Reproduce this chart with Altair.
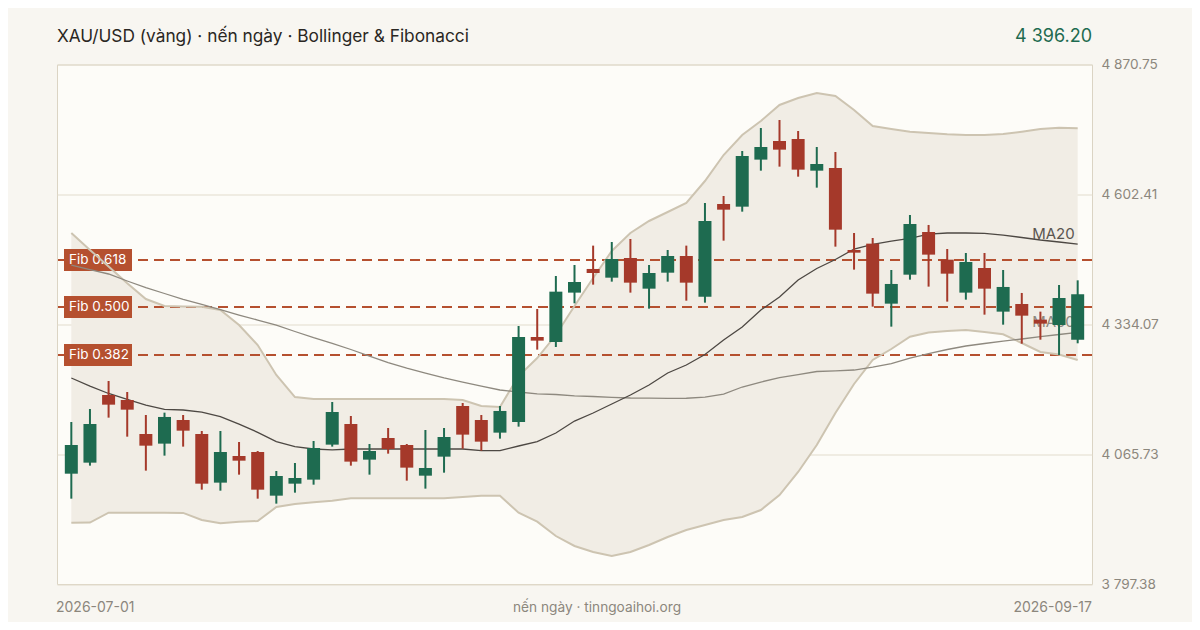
import altair as alt
import pandas as pd

# ---- data ----
opens = [4025.3, 4048.1, 4187.9, 4177.5, 4107.3, 4087.4, 4136.2, 4107.3, 4006.8, 4061.9,
         4070.1, 3979.9, 4004.7, 4013.0, 4085.3, 4128.0, 4054.3, 4099.1, 4084.6, 4021.2,
         4060.5, 4165.2, 4136.2, 4110.1, 4132.1, 4307.7, 4297.4, 4399.4, 4448.3, 4430.3,
         4471.0, 4407.6, 4440.6, 4475.1, 4391.1, 4582.5, 4577.0, 4674.2, 4712.7, 4716.8,
         4651.4, 4656.9, 4487.5, 4500.6, 4376.6, 4436.5, 4524.7, 4467.5, 4399.4, 4450.3,
         4360.1, 4375.9, 4343.6, 4332.5, 4302.2]
highs = [4132.1, 4159.0, 4216.8, 4194.1, 4146.6, 4151.4, 4146.6, 4113.5, 4113.5, 4090.8,
         4072.2, 4030.9, 4047.4, 4092.9, 4173.4, 4144.5, 4086.7, 4119.7, 4086.7, 4115.6,
         4119.7, 4171.4, 4146.6, 4165.2, 4330.5, 4365.6, 4433.8, 4456.5, 4496.5, 4504.0,
         4510.2, 4456.5, 4487.5, 4496.5, 4584.6, 4599.1, 4692.0, 4739.5, 4756.1, 4733.4,
         4700.3, 4690.0, 4522.6, 4512.3, 4446.2, 4559.8, 4539.2, 4489.6, 4481.3, 4481.3,
         4446.2, 4398.7, 4360.1, 4415.2, 4424.8]
lows = [3973.7, 4041.9, 4141.1, 4101.8, 4031.6, 4062.6, 4081.2, 3992.3, 3990.2, 4023.3,
        3973.7, 3963.4, 3986.1, 4002.6, 4081.2, 4041.9, 4023.3, 4066.7, 4010.9, 3994.4,
        4027.4, 4077.0, 4072.9, 4097.7, 4122.5, 4281.6, 4287.1, 4377.3, 4415.9, 4422.1,
        4399.4, 4366.3, 4422.1, 4382.8, 4378.7, 4506.8, 4566.7, 4651.4, 4659.7, 4639.0,
        4616.3, 4494.4, 4446.9, 4370.4, 4329.1, 4426.2, 4411.8, 4380.8, 4384.9, 4353.9,
        4333.2, 4293.9, 4302.2, 4270.6, 4294.7]
closes = [4084.6, 4128.0, 4167.9, 4157.6, 4083.2, 4142.5, 4114.2, 4004.7, 4070.1, 4052.2,
          3992.3, 4020.5, 4016.4, 4078.4, 4152.8, 4050.2, 4072.2, 4076.3, 4037.8, 4037.1,
          4101.1, 4106.0, 4091.5, 4154.9, 4307.7, 4300.2, 4401.4, 4421.4, 4440.0, 4468.9,
          4420.0, 4440.0, 4475.1, 4420.0, 4547.4, 4570.8, 4681.7, 4700.3, 4694.8, 4653.5,
          4665.2, 4529.5, 4482.0, 4397.3, 4417.3, 4541.2, 4477.9, 4438.6, 4462.7, 4407.6,
          4411.1, 4351.8, 4335.3, 4388.3, 4396.2]
bb_upper = [4522.6, 4487.7, 4453.4, 4418.9, 4386.2, 4371.7, 4370.7, 4370.3, 4363.5, 4332.5,
            4291.2, 4229.2, 4183.7, 4179.6, 4179.6, 4179.6, 4179.6, 4179.6, 4179.6, 4179.6,
            4179.6, 4177.5, 4165.1, 4163.1, 4227.1, 4264.3, 4311.8, 4371.7, 4429.6, 4485.4,
            4522.6, 4547.4, 4566.0, 4584.6, 4630.0, 4683.7, 4725.1, 4754.0, 4787.1, 4801.5,
            4811.8, 4805.6, 4776.7, 4743.7, 4737.5, 4731.9, 4729.2, 4726.5, 4725.1, 4725.1,
            4727.1, 4731.9, 4737.5, 4740.1, 4738.9]
bb_lower = [3924.0, 3924.4, 3944.7, 3944.7, 3944.7, 3944.7, 3944.3, 3929.6, 3922.8, 3926.1,
            3927.5, 3956.4, 3962.6, 3966.2, 3969.5, 3974.4, 3974.4, 3974.4, 3974.4, 3974.4,
            3974.4, 3977.1, 3979.8, 3979.8, 3944.7, 3926.1, 3896.5, 3875.9, 3863.5, 3855.2,
            3863.5, 3877.9, 3894.4, 3908.9, 3919.2, 3929.6, 3935.8, 3950.2, 3981.2, 4028.8,
            4084.5, 4150.7, 4210.6, 4260.2, 4282.9, 4308.3, 4317.0, 4320.1, 4322.2, 4318.0,
            4313.3, 4295.3, 4276.7, 4271.5, 4260.2]
ma20 = [4223.0, 4206.4, 4191.0, 4178.6, 4167.2, 4158.3, 4156.9, 4152.7, 4143.4, 4127.9,
        4110.8, 4091.4, 4081.4, 4076.3, 4074.6, 4076.3, 4076.3, 4076.3, 4076.3, 4076.3,
        4076.3, 4076.3, 4072.8, 4072.8, 4082.5, 4091.4, 4109.3, 4134.1, 4150.7, 4169.3,
        4187.9, 4208.5, 4233.3, 4249.8, 4271.5, 4301.5, 4328.4, 4363.5, 4390.3, 4425.5,
        4449.2, 4467.8, 4489.5, 4499.2, 4506.0, 4511.6, 4520.1, 4522.6, 4522.6, 4522.0,
        4518.4, 4513.3, 4508.1, 4504.0, 4499.8]
ma50 = [4456.0, 4447.0, 4437.9, 4423.4, 4409.6, 4397.6, 4385.6, 4375.3, 4364.1, 4353.1,
        4342.8, 4332.1, 4319.1, 4306.2, 4294.7, 4281.9, 4268.4, 4255.0, 4243.6, 4233.3,
        4223.4, 4214.7, 4206.4, 4198.2, 4194.1, 4190.3, 4188.9, 4186.2, 4184.8, 4183.1,
        4181.7, 4181.5, 4181.0, 4181.2, 4183.7, 4189.9, 4204.4, 4214.7, 4223.6, 4230.2,
        4236.4, 4237.9, 4239.5, 4245.7, 4252.9, 4264.3, 4273.6, 4281.9, 4289.1, 4294.3,
        4299.4, 4303.6, 4308.3, 4312.9, 4317.4]
fib_labels = ["Fib 0.618", "Fib 0.500", "Fib 0.382"]
fib_values = [4466.8, 4369.7, 4270.5]
y_ticks = [3797.38, 4065.73, 4334.07, 4602.41, 4870.75]

trading_days = [d for d in pd.bdate_range("2026-07-01", "2026-09-17")
                if d.strftime("%Y-%m-%d") not in ("2026-07-03", "2026-09-07")]
dates = [d.strftime("%Y-%m-%d") for d in trading_days]

# ---- tables ----
n = len(opens)
df = pd.DataFrame({
    "i": list(range(n)), "date": dates, "open": opens, "high": highs, "low": lows,
    "close": closes, "upper": bb_upper, "lower": bb_lower, "ma20": ma20, "ma50": ma50,
})
df["dir"] = ["up" if c >= o else "down" for o, c in zip(opens, closes)]
fib_df = pd.DataFrame({"label": fib_labels, "value": fib_values})
ma_lab = pd.DataFrame({"i": [n - 1, n - 1], "v": [ma20[-1], ma50[-1]],
                       "label": ["MA20", "MA50"], "kind": ["ma20", "ma50"]})

FONT = "Inter"
GREEN = "#1e6b50"
RED = "#a5392a"
FIB = "#b5502f"
GREY = "#8c877d"
W, H = 1035, 519.5

x = alt.X("i:Q", scale=alt.Scale(domain=[-0.5, n - 0.5], nice=False, zero=False), axis=None)
yscale = alt.Scale(domain=[y_ticks[0], y_ticks[-1]], nice=False, zero=False)
y_axis = alt.Axis(orient="right", values=y_ticks, grid=True, gridColor="#e2dccd",
                  domain=False, ticks=False, labelPadding=9, labelFlush=False,
                  labelColor=GREY, labelFont=FONT, labelFontSize=13.6, title=None,
                  labelExpr="replace(format(datum.value, ',.2f'), ',', ' ')")

base = alt.Chart(df)

band = base.mark_area(color="#f1ede5").encode(
    x=x, y=alt.Y("lower:Q", scale=yscale, axis=y_axis), y2="upper:Q")
band_up = base.mark_line(color="#cdc4b1", strokeWidth=2).encode(x=x, y=alt.Y("upper:Q", scale=yscale))
band_lo = base.mark_line(color="#cdc4b1", strokeWidth=2).encode(x=x, y=alt.Y("lower:Q", scale=yscale))

fib_rule = alt.Chart(fib_df).mark_rule(color=FIB, strokeWidth=2, strokeDash=[10, 6]).encode(
    y=alt.Y("value:Q", scale=yscale))
fib_box = alt.Chart(fib_df).mark_rect(color=FIB, yOffset=-11, y2Offset=11).encode(
    x=alt.value(7), x2=alt.value(75), y=alt.Y("value:Q", scale=yscale), y2="value:Q")
fib_txt = alt.Chart(fib_df).mark_text(align="left", baseline="middle", color="#ffffff",
                                      font=FONT, fontSize=13.5).encode(
    x=alt.value(12), y=alt.Y("value:Q", scale=yscale), text="label:N")

ma20_line = base.mark_line(color="#4d4843", strokeWidth=1.3).encode(x=x, y=alt.Y("ma20:Q", scale=yscale))
ma50_line = base.mark_line(color="#8e897f", strokeWidth=1.3).encode(x=x, y=alt.Y("ma50:Q", scale=yscale))
ma_text = alt.Chart(ma_lab).mark_text(align="right", baseline="alphabetic", dx=-3, dy=-5,
                                      font=FONT, fontSize=15).encode(
    x=x, y=alt.Y("v:Q", scale=yscale), text="label:N",
    color=alt.Color("kind:N", scale=alt.Scale(domain=["ma20", "ma50"], range=["#5a5550", "#8e897f"]),
                    legend=None))

col = alt.Color("dir:N", scale=alt.Scale(domain=["up", "down"], range=[GREEN, RED]), legend=None)
wick = base.mark_rule(strokeWidth=2).encode(x=x, y=alt.Y("low:Q", scale=yscale), y2="high:Q", color=col)
body = base.mark_bar(size=13, minBandSize=1.5).encode(
    x=x, y=alt.Y("open:Q", scale=yscale), y2="close:Q", color=col)

title = alt.Chart(pd.DataFrame({"t": ["XAU/USD (vàng) · nến ngày · Bollinger & Fibonacci"]})).mark_text(
    align="left", baseline="middle", font=FONT, fontSize=17.3, color="#2a2723").encode(
    x=alt.value(0), y=alt.value(-27.5), text="t:N")
last_txt = f"{closes[-1]:,.2f}".replace(",", " ")
price = alt.Chart(pd.DataFrame({"t": [last_txt]})).mark_text(
    align="right", baseline="middle", font=FONT, fontSize=18, color=GREEN).encode(
    x=alt.value(W), y=alt.value(-28), text="t:N")
foot_l = alt.Chart(pd.DataFrame({"t": [dates[0]]})).mark_text(
    align="left", baseline="middle", font=FONT, fontSize=14, color=GREY).encode(
    x=alt.value(-1), y=alt.value(543), text="t:N")
foot_c = alt.Chart(pd.DataFrame({"t": ["nến ngày · tinngoaihoi.org"]})).mark_text(
    align="center", baseline="middle", font=FONT, fontSize=13.7, color=GREY).encode(
    x=alt.value(540), y=alt.value(543), text="t:N")
foot_r = alt.Chart(pd.DataFrame({"t": [dates[-1]]})).mark_text(
    align="right", baseline="middle", font=FONT, fontSize=14, color=GREY).encode(
    x=alt.value(W), y=alt.value(543), text="t:N")

chart = alt.layer(
    band, fib_rule, fib_box, fib_txt, band_up, band_lo, ma50_line, ma20_line, ma_text,
    wick, body, title, price, foot_l, foot_c, foot_r,
).resolve_scale(color="independent").properties(
    width=W, height=H,
    autosize=alt.AutoSizeParams(type="none"),
    padding={"left": 49, "top": 56.5, "right": 100, "bottom": 38},
    background="#f8f6f1",
).configure_view(fill="#fdfcf8", stroke="#dbd4c4", strokeWidth=1)

chart.save("out.html", embed_options={"renderer": "svg", "actions": False})
